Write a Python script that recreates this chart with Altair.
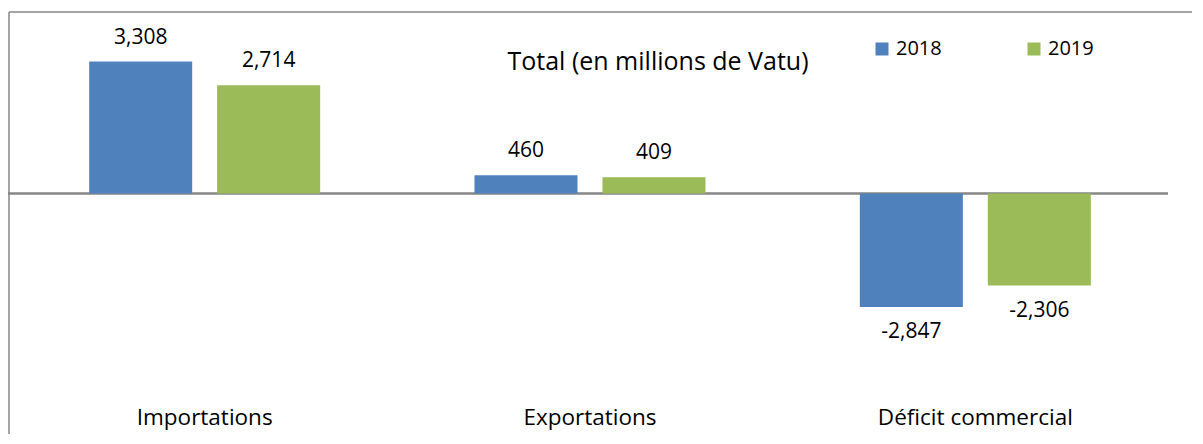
import altair as alt
import pandas as pd

categories = ["Importations", "Exportations", "Déficit commercial"]
years = ["2018", "2019"]
values_2018 = [3308, 460, -2847]
values_2019 = [2714, 409, -2306]
subtitle = ["Total (en millions de Vatu)"]

rows = []
for c, v in zip(categories, values_2018):
    rows.append({"cat": c, "year": "2018", "value": v})
for c, v in zip(categories, values_2019):
    rows.append({"cat": c, "year": "2019", "value": v})
df = pd.DataFrame(rows)

FONT = "Open Sans"
W, H = 1156, 359
YDOM = [-5000, 4000]

x = alt.X("cat:N", sort=categories, title=None,
          scale=alt.Scale(paddingInner=0, paddingOuter=0),
          axis=alt.Axis(orient="bottom", domain=False, ticks=False, grid=False, labelAngle=0,
                        labelFontSize=22.5, labelFont=FONT, labelColor="black",
                        labelPadding=13, labelLimit=500))
xo = alt.XOffset("year:N", scale=alt.Scale(paddingInner=0.195, paddingOuter=0.603))
y = alt.Y("value:Q", scale=alt.Scale(domain=YDOM, nice=False), axis=None)
color = alt.Color("year:N", scale=alt.Scale(domain=years, range=["#4F81BD", "#9BBB59"]),
                  legend=alt.Legend(orient="none", legendX=860, legendY=5, direction="horizontal",
                                    title=None, symbolType="square", symbolSize=169,
                                    symbolStrokeWidth=0, labelFontSize=20, labelFont=FONT,
                                    labelColor="black", labelOffset=4, columnPadding=82,
                                    padding=0))

base = alt.Chart(df)
bars = base.mark_bar().encode(x=x, xOffset=xo, y=y, y2=alt.datum(0), color=color)

lab = base.transform_calculate(
    label="replace(format(datum.value, ',d'), '\u2212', '-')")
pos_labels = lab.transform_filter("datum.value >= 0").mark_text(
    dy=-24, baseline="middle", fontSize=21, font=FONT, color="black"
).encode(x=x, xOffset=xo, y=y, text="label:N")
neg_labels = lab.transform_filter("datum.value < 0").mark_text(
    dy=25, baseline="middle", fontSize=21, font=FONT, color="black"
).encode(x=x, xOffset=xo, y=y, text="label:N")

zero = alt.Chart(pd.DataFrame({"z": [0]})).mark_rule(color="#868686", strokeWidth=2.5).encode(
    x=alt.value(-7), x2=alt.value(W), y=alt.Y("z:Q", scale=alt.Scale(domain=YDOM, nice=False), axis=None))

total = alt.Chart(pd.DataFrame({"t": subtitle})).mark_text(
    fontSize=25, font=FONT, color="black", baseline="middle", align="center"
).encode(x=alt.value(646), y=alt.value(28), text="t:N")

frame = alt.Chart(pd.DataFrame({"f": [0]})).mark_rule(
    stroke="#868686", strokeWidth=1.5, clip=False
).encode(x=alt.value(-3), x2=alt.value(1400), y=alt.value(-22))
frame_left = alt.Chart(pd.DataFrame({"f": [0]})).mark_rule(
    stroke="#868686", strokeWidth=1.5, clip=False
).encode(x=alt.value(-3), y=alt.value(-22), y2=alt.value(600))

chart = alt.layer(frame, frame_left, zero, bars, pos_labels, neg_labels, total).properties(
    width=W, height=H,
    background="white",
    padding={"left": 4, "top": 26, "right": 24, "bottom": 41},
    autosize=alt.AutoSizeParams(type="none"),
).configure_view(stroke="transparent", strokeWidth=0)

chart.save("out.html", embed_options={"renderer": "svg", "actions": False})
